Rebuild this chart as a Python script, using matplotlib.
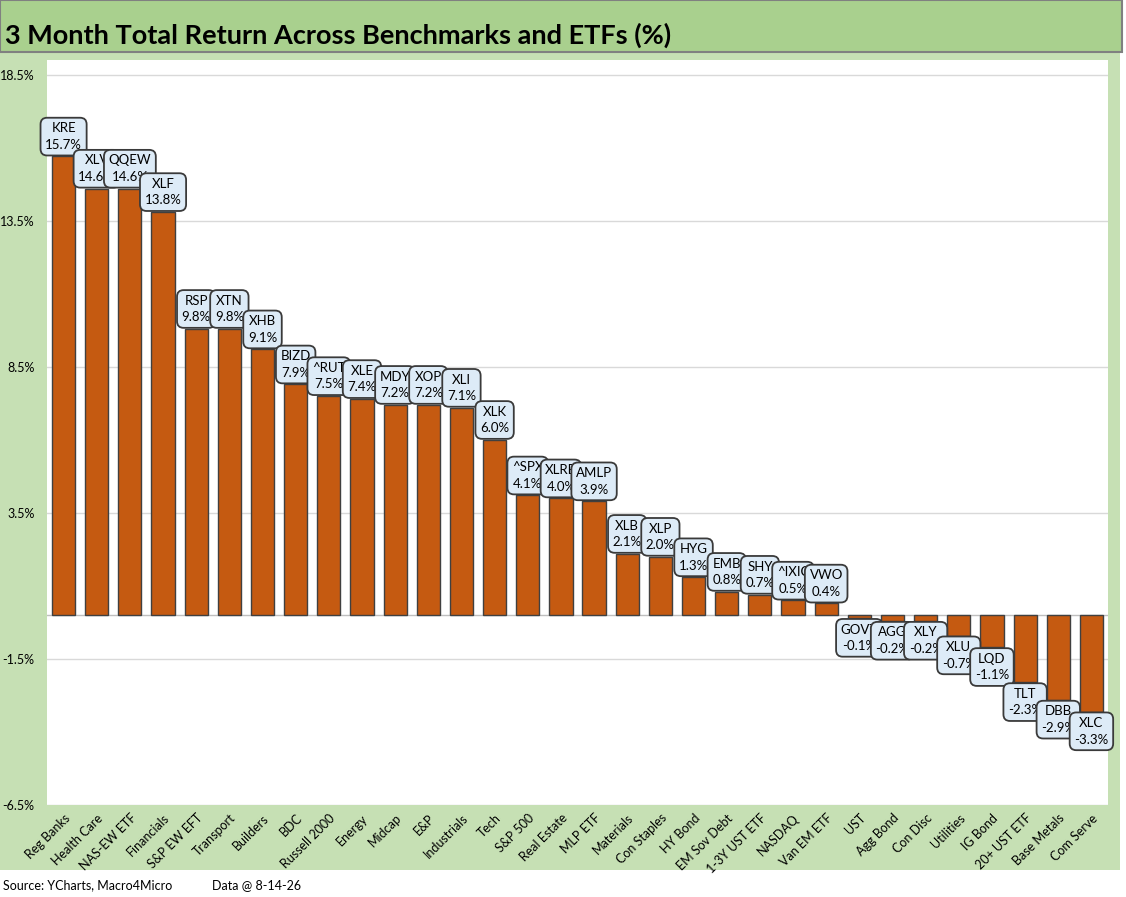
import matplotlib
matplotlib.use('Agg')
import matplotlib.pyplot as plt
import matplotlib.patches as mpatches
import numpy as np

# --- Data ---
categories = ['Reg Banks', 'Health Care', 'NAS-EW ETF', 'Financials', 'S&P EW EFT',
              'Transport', 'Builders', 'BDC', 'Russell 2000', 'Energy', 'Midcap',
              'E&P', 'Industrials', 'Tech', 'S&P 500', 'Real Estate', 'MLP ETF',
              'Materials', 'Con Staples', 'HY Bond', 'EM Sov Debt', '1-3Y UST ETF',
              'NASDAQ', 'Van EM ETF', 'UST', 'Agg Bond', 'Con Disc', 'Utilities',
              'IG Bond', '20+ UST ETF', 'Base Metals', 'Com Serve']
tickers = ['KRE', 'XLV', 'QQEW', 'XLF', 'RSP', 'XTN', 'XHB', 'BIZD', '^RUT', 'XLE',
           'MDY', 'XOP', 'XLI', 'XLK', '^SPX', 'XLRE', 'AMLP', 'XLB', 'XLP', 'HYG',
           'EMB', 'SHY', '^IXIC', 'VWO', 'GOVT', 'AGG', 'XLY', 'XLU', 'LQD', 'TLT',
           'DBB', 'XLC']
returns = [15.7, 14.6, 14.6, 13.8, 9.8, 9.8, 9.1, 7.9, 7.5, 7.4, 7.2, 7.2, 7.1, 6.0,
           4.1, 4.0, 3.9, 2.1, 2.0, 1.3, 0.8, 0.7, 0.5, 0.4, -0.1, -0.2, -0.2, -0.7,
           -1.1, -2.3, -2.9, -3.3]
yticks = [18.5, 13.5, 8.5, 3.5, -1.5, -6.5]

plt.rcParams['font.family'] = ['Lato', 'DejaVu Sans']

W, H = 1126, 897
fig = plt.figure(figsize=(W / 100, H / 100), dpi=100)
fig.patch.set_facecolor('white')

# background panels
fig.patches.append(mpatches.Rectangle((0, (H - 870) / H), 1120 / W, (870 - 52) / H,
                                      transform=fig.transFigure, fc='#C6E0B4', ec='none', zorder=-2))
fig.patches.append(mpatches.Rectangle((0, (H - 52) / H), 1122 / W, 52 / H,
                                      transform=fig.transFigure, fc='#A9D08E', ec='#808080',
                                      lw=1.5, zorder=-1))
fig.text(5 / W, (H - 35) / H, '3 Month Total Return Across Benchmarks and ETFs (%)',
         fontsize=19.5, fontweight='bold', va='center', ha='left')
fig.text(3 / W, (H - 885) / H, 'Source: YCharts, Macro4Micro', fontsize=9, va='center')
fig.text(212 / W, (H - 885) / H, 'Data @ 8-14-26', fontsize=9, va='center')

ax = fig.add_axes([47 / W, (H - 805) / H, (1108 - 47) / W, (805 - 60) / H])
ax.set_zorder(2)
ax.set_facecolor('white')
x = np.arange(len(categories))
ax.bar(x, returns, width=0.7, color='#C55A11', edgecolor='#404040', lw=1, zorder=3)

ax.set_xlim(-0.5, len(categories) - 0.5)
ax.set_ylim(-6.5, 19.0)
ax.set_yticks(yticks)
ax.set_yticklabels(['%.1f%%' % v for v in yticks], fontsize=9)
ax.yaxis.grid(True, color='#D9D9D9', lw=1, zorder=0)
ax.set_axisbelow(True)
ax.axhline(0, color='#BFBFBF', lw=1, zorder=2)
ax.set_xticks(x)
ax.set_xticklabels(categories, rotation=45, ha='right', rotation_mode='anchor', fontsize=9)
ax.tick_params(axis='both', length=0)
ax.tick_params(axis='y', pad=9)
ax.tick_params(axis='x', pad=5)
for s in ax.spines.values():
    s.set_visible(False)

# --- Data labels ---
for xi, t, v in zip(x, tickers, returns):
    off = 4 if v >= 0 else -4
    ax.annotate('%s\n%.1f%%' % (t, v), (xi, v), xytext=(0, off), textcoords='offset points',
                ha='center', va='bottom' if v >= 0 else 'top', fontsize=9.5, linespacing=1.45,
                zorder=5,
                bbox=dict(boxstyle='round,pad=0.35,rounding_size=0.5', fc='#DDEBF7',
                          ec='#3A3A3A', lw=1.3))

fig.savefig('out.png', dpi=100)
